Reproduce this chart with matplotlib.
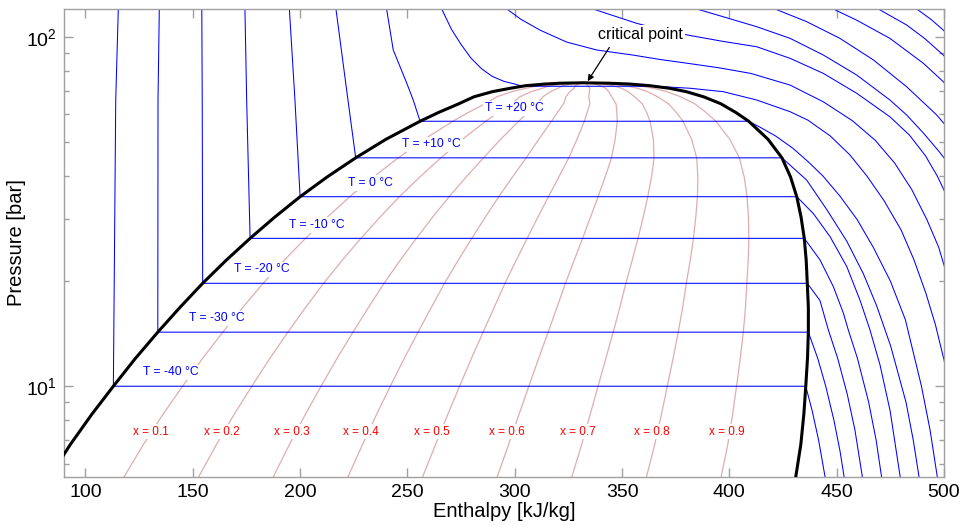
import numpy as np
import matplotlib
matplotlib.use("Agg")
import matplotlib.pyplot as plt
from matplotlib.ticker import LogLocator, NullFormatter, MultipleLocator

plt.rcParams["font.family"] = ["Liberation Sans", "DejaVu Sans"]
plt.rcParams["mathtext.fontset"] = "custom"
plt.rcParams["mathtext.rm"] = "Liberation Sans"

# saturation dome of CO2: pressure [bar], liquid / vapour enthalpy [kJ/kg]
sat_p = [5.2, 5.54, 6.82, 8.32, 10.0, 12.02, 14.28, 16.83, 19.70, 22.91, 26.49, 30.47,
         34.85, 39.69, 45.02, 50.87, 57.29, 60.7, 64.3, 67.3, 69.6, 71.2, 72.4, 73.2, 73.6, 73.8]
sat_hl = [80.5, 83.5, 93.0, 103.0, 113.0, 123.3, 133.7, 144.1, 154.6, 165.5, 176.7, 188.2,
          200.0, 212.6, 225.9, 240.0, 255.9, 264.5, 274.0, 281.0, 289.5, 298.0, 305.0, 314.0, 321.0, 332.0]
sat_hv = [430.5, 431.0, 433.3, 434.7, 435.6, 436.4, 436.8, 436.8, 436.3, 435.8, 434.9, 433.4,
          431.4, 428.5, 424.5, 418.0, 409.0, 403.0, 396.0, 388.0, 380.0, 372.0, 363.0, 353.5, 344.0, 332.0]

qualities = [0.1, 0.2, 0.3, 0.4, 0.5, 0.6, 0.7, 0.8, 0.9]
quality_label_h = [130.6, 163.3, 196.2, 228.5, 261.5, 296.5, 329.5, 364.0, 399.0]
quality_label_p = 7.41

# isotherms (enthalpy [kJ/kg], pressure [bar])
iso_m40_h = [115.3, 114.1, 113.0, 435.6, 438.6, 441.6, 444.6, 445.2]
iso_m40_p = [120, 65.9, 10.0, 10.0, 8.5, 7.0, 5.5, 5.2]
iso_m30_h = [134.4, 133.8, 133.7, 436.8, 441.2, 444.9, 448.7, 451.6, 454.1]
iso_m30_p = [120, 65.9, 14.28, 14.28, 12.0, 10.0, 8.0, 6.5, 5.2]
iso_m20_h = [154.2, 154.4, 154.6, 436.3, 442.2, 446.1, 450.5, 454.9, 458.5, 462.6]
iso_m20_p = [120, 65.9, 19.7, 19.7, 17.6, 14.5, 12.0, 9.5, 7.5, 5.2]
iso_m10_h = [174.3, 175.1, 176.7, 434.9, 442.2, 448.4, 453.1, 455.4, 459.7, 464.9, 468.4, 471.5]
iso_m10_p = [120, 65.9, 26.49, 26.49, 23.0, 19.3, 16.2, 14.5, 12.0, 9.0, 7.0, 5.2]
iso_0_h = [195.0, 197.6, 200.0, 431.4, 439.1, 446.9, 454.7, 460.9, 465.5, 470.2, 474.9, 479.6, 480.1]
iso_0_p = [120, 65.9, 34.85, 34.85, 31.2, 26.8, 22.0, 17.6, 14.5, 11.5, 8.5, 5.5, 5.2]
iso_10_h = [216.7, 222.3, 225.9, 424.5, 436.0, 445.4, 454.7, 462.4, 468.6, 471.7, 475.2, 482.3, 485.7, 489.0]
iso_10_p = [120, 65.9, 45.02, 45.02, 38.9, 32.0, 26.0, 21.0, 17.0, 15.0, 13.0, 9.0, 7.0, 5.2]
iso_20_h = [240.3, 243.4, 249.7, 252.7, 255.9, 409.0, 414.5, 421.5, 429.5, 436.5, 443.5, 451.5,
            459.5, 467.0, 475.0, 482.0, 489.5, 493.5, 497.5]
iso_20_p = [120, 91.6, 73.6, 65.9, 57.29, 57.29, 55, 52, 48, 44, 40, 35, 30, 25, 20, 15.5, 10, 7.5, 5.2]
iso_30_h = [266.0, 270.5, 275.0, 279.5, 284.5, 289.5, 295.0, 300.0, 303.5, 365.0, 381.7, 397.2,
            412.7, 428.3, 436.6, 447.0, 456.0, 464.0, 472.0, 480.0, 486.0, 491.5, 496.0, 500.0, 501.0]
iso_30_p = [120, 105, 95, 87, 81, 77, 74.5, 73.2, 72.14, 72.14, 71.2, 69.6, 65.9, 61.0, 57.7,
            52, 46, 40, 34, 28, 23, 18.5, 15, 11.9, 11]
iso_40_h = [296.3, 303.0, 311.8, 324.2, 338.2, 355.0, 368.0, 380.0, 395.0, 410.0, 428.3, 443.8,
            457.3, 468.0, 477.0, 485.0, 492.0, 497.5, 500.0, 501.0]
iso_40_p = [120, 112, 104.4, 96.5, 91.6, 88.6, 86.0, 84.0, 81.5, 78.5, 72.7, 65.1, 57.5, 50.5,
            43.5, 36.5, 30.0, 25.0, 22.2, 21.2]
iso_50_h = [336.5, 356.8, 370.0, 383.2, 397.2, 412.7, 428.3, 443.8, 459.3, 474.8, 483.9, 491.4,
            496.9, 500.0, 501.5]
iso_50_p = [120, 109.2, 104.0, 100.4, 96.9, 93.6, 86.7, 78.5, 68.9, 59.0, 52.3, 45.6, 39.9, 36.4, 34.5]
iso_60_h = [384.8, 397.2, 412.7, 428.3, 443.8, 459.3, 474.8, 482.6, 490.4, 497.5, 500.0, 501.5]
iso_60_p = [120, 114.0, 106.8, 98.9, 88.6, 77.7, 65.9, 59.7, 53.0, 47.1, 45.0, 43.8]
iso_70_h = [421.3, 436.0, 451.5, 467.1, 482.6, 496.6, 501.0]
iso_70_p = [120, 110.4, 98.9, 85.8, 71.9, 59.7, 55.5]
iso_80_h = [448.4, 459.3, 474.8, 490.4, 499.7, 501.5]
iso_80_p = [120, 111.5, 98.9, 83.9, 74.3, 72.0]
iso_90_h = [469.4, 482.6, 491.0, 499.7, 501.5]
iso_90_p = [120, 108.0, 98.8, 88.6, 86.0]
iso_100_h = [487.3, 494.0, 499.7, 501.3]
iso_100_p = [120, 112.0, 104.4, 102.0]

isotherms = [
    (iso_m40_h, iso_m40_p), (iso_m30_h, iso_m30_p), (iso_m20_h, iso_m20_p),
    (iso_m10_h, iso_m10_p), (iso_0_h, iso_0_p), (iso_10_h, iso_10_p),
    (iso_20_h, iso_20_p), (iso_30_h, iso_30_p), (iso_40_h, iso_40_p),
    (iso_50_h, iso_50_p), (iso_60_h, iso_60_p), (iso_70_h, iso_70_p),
    (iso_80_h, iso_80_p), (iso_90_h, iso_90_p), (iso_100_h, iso_100_p),
]

# labels on the two-phase isotherms
t_labels = ["T = -40 \u00b0C", "T = -30 \u00b0C", "T = -20 \u00b0C", "T = -10 \u00b0C",
            "T = 0 \u00b0C", "T = +10 \u00b0C", "T = +20 \u00b0C"]
t_label_h = [139.9, 161.1, 182.1, 207.7, 232.9, 261.3, 299.7]
t_label_p = [10.96, 15.64, 21.6, 28.9, 38.1, 49.2, 62.4]

BLUE = "#0000ff"
PINK = "#e0adad"
GREY = "#a0a0a0"

fig = plt.figure(figsize=(9.63, 5.25), dpi=100)
ax = fig.add_axes([64 / 963, 48 / 525, 880 / 963, 468 / 525])

sp = np.array(sat_p)
hl = np.array(sat_hl)
hv = np.array(sat_hv)

# constant-quality lines
for q in qualities:
    ax.plot(hl + q * (hv - hl), sp, color=PINK, lw=0.9, zorder=1)

for h, p in isotherms:
    ax.plot(h, p, color=BLUE, lw=0.75, zorder=2)

# saturation dome
ax.plot(np.concatenate([hl, hv[::-1]]), np.concatenate([sp, sp[::-1]]),
        color="black", lw=2.2, zorder=5, solid_joinstyle="round")

for q, qh in zip(qualities, quality_label_h):
    ax.text(qh, quality_label_p, f"x = {q:.1f}", color="#ff0000", fontsize=8.5,
            ha="center", va="center", zorder=3,
            bbox=dict(facecolor="white", edgecolor="none", pad=1.2))

for lab, th, tp in zip(t_labels, t_label_h, t_label_p):
    ax.text(th, tp, lab, color=BLUE, fontsize=8.7, ha="center", va="center", zorder=3,
            bbox=dict(facecolor="white", edgecolor="none", pad=1.2))

ax.annotate("critical point", xy=(334.0, 74.6), xytext=(358.4, 101.5),
            ha="center", va="center", fontsize=11.5, zorder=6,
            bbox=dict(facecolor="white", edgecolor="none", pad=1.5),
            arrowprops=dict(arrowstyle="-|>", color="black", lw=0.9,
                            mutation_scale=9, relpos=(0.18, 0.0), shrinkA=3, shrinkB=0))

ax.set_xlim(90, 500)
ax.set_yscale("log")
ax.set_ylim(5.5, 120)
ax.xaxis.set_major_locator(MultipleLocator(50))
ax.yaxis.set_major_locator(LogLocator(base=10))
ax.yaxis.set_minor_locator(LogLocator(base=10, subs=np.arange(2, 10)))
ax.yaxis.set_minor_formatter(NullFormatter())

ax.tick_params(which="both", direction="in", top=True, right=True, color=GREY,
               labelsize=14, width=1.0)
ax.tick_params(which="major", length=6.5, pad=5)
ax.tick_params(which="minor", length=3.5)
for s in ax.spines.values():
    s.set_color(GREY)
    s.set_linewidth(1.0)

ax.set_xlabel("Enthalpy [kJ/kg]", fontsize=14.5, labelpad=1)
ax.set_ylabel("Pressure [bar]", fontsize=14.5, labelpad=0)

fig.savefig("out.png", dpi=100, facecolor="white")
